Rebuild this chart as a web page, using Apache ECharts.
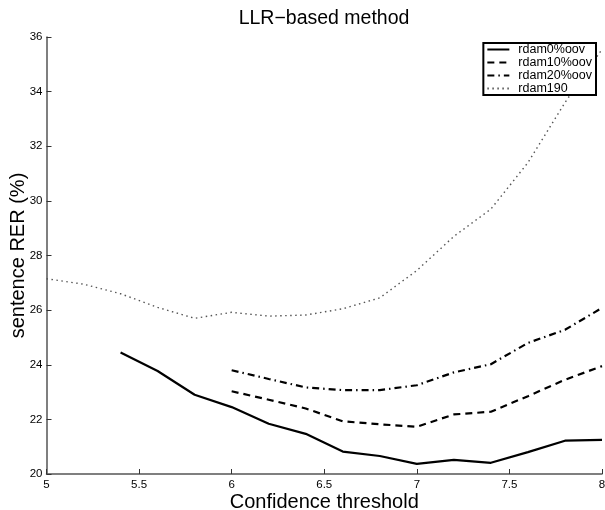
<!DOCTYPE html>
<html>
<head>
<meta charset="utf-8">
<script src="https://cdn.jsdelivr.net/npm/echarts@6/dist/echarts.min.js"></script>
<style>html,body{margin:0;padding:0;background:#fff}#c{width:605px;height:510px}</style>
</head>
<body>
<div id="c"></div>
<script>
const seriesNames = ['rdam0%oov', 'rdam10%oov', 'rdam20%oov', 'rdam190'];
const x0 = [5.4, 5.6, 5.8, 6.0, 6.2, 6.4, 6.6, 6.8, 7.0, 7.2, 7.4, 7.6, 7.8, 8.0];
const y0 = [24.45, 23.77, 22.9, 22.45, 21.84, 21.47, 20.82, 20.66, 20.37, 20.52, 20.41, 20.8, 21.22, 21.25];
const x10 = [6.0, 6.2, 6.4, 6.6, 6.8, 7.0, 7.2, 7.4, 7.6, 7.8, 8.0];
const y10 = [23.03, 22.72, 22.4, 21.93, 21.82, 21.73, 22.18, 22.28, 22.85, 23.45, 23.95];
const x20 = [6.0, 6.2, 6.4, 6.6, 6.8, 7.0, 7.2, 7.4, 7.6, 7.8, 8.0];
const y20 = [23.8, 23.48, 23.17, 23.07, 23.07, 23.25, 23.72, 24.02, 24.8, 25.28, 26.08];
const x190 = [5.0, 5.2, 5.4, 5.6, 5.8, 6.0, 6.2, 6.4, 6.6, 6.8, 7.0, 7.2, 7.4, 7.6, 7.8, 8.0];
const y190 = [27.15, 26.95, 26.6, 26.1, 25.7, 25.92, 25.78, 25.82, 26.05, 26.45, 27.45, 28.7, 29.7, 31.4, 33.6, 35.55];

const pairs = (xs, ys) => xs.map((x, i) => [x, ys[i]]);
const font = 'Liberation Sans, Arial, Helvetica, sans-serif';

const styles = [
  {color: '#000', width: 2.2, type: 'solid'},
  {color: '#000', width: 2.2, type: [7, 5]},
  {color: '#000', width: 2.2, type: [7, 4, 1.5, 4]},
  {color: '#555', width: 1.4, type: [1.5, 3.5]}
];
const dataSets = [pairs(x0, y0), pairs(x10, y10), pairs(x20, y20), pairs(x190, y190)];

const chart = echarts.init(document.getElementById('c'), null, {renderer: 'canvas'});
chart.setOption({
  animation: false,
  backgroundColor: '#fff',
  textStyle: {fontFamily: font},
  title: {
    text: 'LLR\u2212based method',
    left: 324, top: 9, textAlign: 'center', padding: 0,
    textStyle: {fontFamily: font, fontSize: 19.5, fontWeight: 'normal', color: '#000'}
  },
  legend: {
    orient: 'vertical',
    right: 9, top: 43,
    padding: [0, 4, 0, 3],
    itemGap: 0,
    itemWidth: 22, itemHeight: 11,
    backgroundColor: '#fff',
    borderColor: '#000', borderWidth: 2, borderRadius: 0,
    itemStyle: {opacity: 0},
    data: seriesNames,
    textStyle: {fontFamily: font, fontSize: 12.5, lineHeight: 12, color: '#000',
                padding: [0, 0, 0, 4], width: 66, overflow: 'none'}
  },
  grid: {left: 46.5, right: 3, top: 37, bottom: 36, containLabel: false, outerBoundsMode: 'none'},
  xAxis: {
    type: 'value', min: 5, max: 8, interval: 0.5,
    name: 'Confidence threshold', nameLocation: 'middle', nameGap: 18,
    nameMoveOverlap: false,
    nameTextStyle: {fontFamily: font, fontSize: 20, color: '#000'},
    axisLine: {show: true, lineStyle: {color: '#555', width: 1.5}},
    axisTick: {show: true, inside: true, length: 5, lineStyle: {color: '#333'}},
    axisLabel: {fontFamily: font, fontSize: 11.5, color: '#000', margin: 5},
    splitLine: {show: false}
  },
  yAxis: {
    type: 'value', min: 20, max: 36, interval: 2,
    name: 'sentence RER (%)', nameLocation: 'middle', nameGap: 18, nameRotate: 90,
    nameMoveOverlap: false,
    nameTextStyle: {fontFamily: font, fontSize: 20, color: '#000'},
    axisLine: {show: true, lineStyle: {color: '#555', width: 1.5}},
    axisTick: {show: true, inside: true, length: 5, lineStyle: {color: '#333'}},
    axisLabel: {fontFamily: font, fontSize: 11.5, color: '#000', margin: 4},
    splitLine: {show: false}
  },
  series: seriesNames.map((n, i) => ({
    name: n, type: 'line', data: dataSets[i],
    symbol: 'none', showSymbol: false,
    lineStyle: styles[i], itemStyle: {color: styles[i].color},
    z: 2
  }))
});
</script>
</body>
</html>
